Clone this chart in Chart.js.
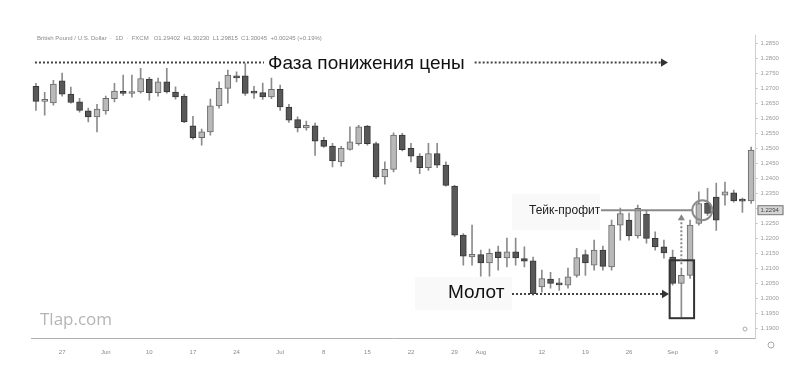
<!DOCTYPE html>
<html>
<head>
<meta charset="utf-8">
<script src="https://cdn.jsdelivr.net/npm/chart.js@4.4.0/dist/chart.umd.min.js"></script>
<style>
  html, body { margin: 0; padding: 0; background: #fff; }
  #chart { display: block; }
</style>
</head>
<body>
<canvas id="chart" width="798" height="369"></canvas>
<script>
// GBP/USD daily, 22 May - 13 Sep
const opens = [
    1.2707, 1.2657, 1.2652, 1.2725, 1.2681, 1.2655, 1.2625, 1.2605, 1.2625, 1.2666,
    1.2690, 1.2683, 1.2688, 1.2731, 1.2686, 1.2722, 1.2688, 1.2674, 1.2575, 1.2536,
    1.2555, 1.2642, 1.2700, 1.2742, 1.2742, 1.2686, 1.2686, 1.2672, 1.2697, 1.2638,
    1.2596, 1.2568, 1.2575, 1.2527, 1.2508, 1.2455, 1.2497, 1.2516, 1.2574, 1.2516,
    1.2405, 1.2430, 1.2544, 1.2500, 1.2474, 1.2436, 1.2483, 1.2444, 1.2374, 1.2211,
    1.2138, 1.2146, 1.2118, 1.2155, 1.2135, 1.2155, 1.2133, 1.2125, 1.2038, 1.2064,
    1.2047, 1.2044, 1.2077, 1.2146, 1.2111, 1.2161, 1.2105, 1.2244, 1.2261, 1.2208,
    1.2281, 1.2200, 1.2172, 1.2138, 1.2050, 1.2077, 1.2250, 1.2318, 1.2338, 1.2344,
    1.2352, 1.2327, 1.2325
];
const highs = [
    1.2717, 1.2687, 1.2727, 1.2751, 1.2704, 1.2667, 1.2634, 1.2647, 1.2674, 1.2717,
    1.2744, 1.2744, 1.2767, 1.2737, 1.2734, 1.2767, 1.2705, 1.2681, 1.2607, 1.2564,
    1.2664, 1.2722, 1.2761, 1.2755, 1.2783, 1.2707, 1.2718, 1.2734, 1.2711, 1.2647,
    1.2605, 1.2591, 1.2584, 1.2537, 1.2517, 1.2507, 1.2572, 1.2577, 1.2577, 1.2521,
    1.2455, 1.2552, 1.2550, 1.2517, 1.2483, 1.2517, 1.2517, 1.2455, 1.2377, 1.2216,
    1.2244, 1.2161, 1.2164, 1.2174, 1.2201, 1.2201, 1.2172, 1.2138, 1.2094, 1.2087,
    1.2067, 1.2101, 1.2167, 1.2161, 1.2194, 1.2174, 1.2261, 1.2301, 1.2284, 1.2311,
    1.2294, 1.2222, 1.2194, 1.2161, 1.2101, 1.2261, 1.2355, 1.2367, 1.2384, 1.2388,
    1.2361, 1.2334, 1.2504
];
const lows = [
    1.2627, 1.2611, 1.2644, 1.2674, 1.2651, 1.2621, 1.2588, 1.2555, 1.2614, 1.2655,
    1.2677, 1.2671, 1.2684, 1.2661, 1.2674, 1.2684, 1.2664, 1.2586, 1.2531, 1.2511,
    1.2544, 1.2634, 1.2651, 1.2722, 1.2677, 1.2667, 1.2663, 1.2666, 1.2627, 1.2587,
    1.2555, 1.2561, 1.2477, 1.2503, 1.2438, 1.2441, 1.2494, 1.2511, 1.2511, 1.2400,
    1.2381, 1.2422, 1.2492, 1.2455, 1.2416, 1.2427, 1.2436, 1.2374, 1.2207, 1.2111,
    1.2111, 1.2074, 1.2074, 1.2094, 1.2105, 1.2111, 1.2105, 1.2011, 1.2021, 1.2034,
    1.2027, 1.2034, 1.2071, 1.2077, 1.2094, 1.2094, 1.2094, 1.2194, 1.2194, 1.2201,
    1.2184, 1.2161, 1.2134, 1.2044, 1.1938, 1.2067, 1.2244, 1.2277, 1.2227, 1.2311,
    1.2321, 1.2287, 1.2317
];
const closes = [
    1.2657, 1.2661, 1.2714, 1.2681, 1.2653, 1.2627, 1.2605, 1.2631, 1.2667, 1.2691,
    1.2683, 1.2686, 1.2733, 1.2686, 1.2722, 1.2688, 1.2672, 1.2588, 1.2536, 1.2555,
    1.2642, 1.2700, 1.2744, 1.2735, 1.2683, 1.2684, 1.2672, 1.2697, 1.2638, 1.2594,
    1.2568, 1.2577, 1.2524, 1.2507, 1.2458, 1.2500, 1.2522, 1.2572, 1.2516, 1.2405,
    1.2430, 1.2544, 1.2496, 1.2474, 1.2436, 1.2483, 1.2444, 1.2377, 1.2211, 1.2141,
    1.2147, 1.2118, 1.2150, 1.2136, 1.2155, 1.2135, 1.2124, 1.2016, 1.2066, 1.2050,
    1.2045, 1.2072, 1.2136, 1.2118, 1.2161, 1.2107, 1.2244, 1.2283, 1.2208, 1.2300,
    1.2200, 1.2172, 1.2152, 1.2050, 1.2077, 1.2244, 1.2316, 1.2283, 1.2261, 1.2355,
    1.2325, 1.2324, 1.2494
];

// x axis: bar index -> label
const tickDays  = [3, 8, 13, 18, 23, 28, 33, 38, 43, 48, 51, 58, 63, 68, 73, 78];
const tickNames = ['27', 'Jun', '10', '17', '24', 'Jul', '8', '15', '22', '29', 'Aug', '12', '19', '26', 'Sep', '9'];

// price axis
const yTicks = [1.190, 1.195, 1.200, 1.205, 1.210, 1.215, 1.220, 1.225, 1.230, 1.235,
                1.240, 1.245, 1.250, 1.255, 1.260, 1.265, 1.270, 1.275, 1.280, 1.285];
const yMin = 1.1868;
const yMax = 1.2878;

// levels used by the notes
const phaseLevel = 1.2786;
const takeProfit = 1.2294;
const hammerIndex = 74;

const days = opens.map((o, i) => i);
const isBull = (i) => closes[i] >= opens[i];

function dotted(ctx, x1, y1, x2, y2, color, width, dash) {
    ctx.save();
    ctx.strokeStyle = color;
    ctx.lineWidth = width;
    ctx.setLineDash(dash || [2, 2]);
    ctx.beginPath();
    ctx.moveTo(x1, y1);
    ctx.lineTo(x2, y2);
    ctx.stroke();
    ctx.restore();
}

function arrowHead(ctx, x, y, dir, color, size) {
    // dir: 'right' or 'up', (x, y) is the tip
    ctx.save();
    ctx.fillStyle = color;
    ctx.beginPath();
    if (dir === 'right') {
        ctx.moveTo(x, y);
        ctx.lineTo(x - size, y - size * 0.6);
        ctx.lineTo(x - size, y + size * 0.6);
    } else {
        ctx.moveTo(x, y);
        ctx.lineTo(x - size * 0.6, y + size);
        ctx.lineTo(x + size * 0.6, y + size);
    }
    ctx.closePath();
    ctx.fill();
    ctx.restore();
}

// text notes, arrows, hammer box and the take-profit mark
const notesPlugin = {
    id: 'notes',
    beforeDatasetsDraw(chart) {
        const ctx = chart.ctx;
        ctx.save();
        ctx.fillStyle = '#f9f9f9';
        ctx.fillRect(512, 194, 88, 36);   // take-profit label
        ctx.fillRect(415, 277, 97, 33);   // hammer label
        ctx.restore();
    },
    afterDatasetsDraw(chart) {
        const ctx = chart.ctx;
        const x = chart.scales.x;
        const y = chart.scales.y;

        // header line
        ctx.save();
        ctx.font = '6px "Liberation Sans", Arial, sans-serif';
        ctx.fillStyle = '#8a8a8a';
        ctx.textBaseline = 'middle';
        ctx.fillText('British Pound / U.S. Dollar  \u00b7  1D  \u00b7  FXCM   O1.29402  H1.30230  L1.29815  C1.30045  +0.00245 (+0.19%)', 37, 38);
        ctx.restore();

        // price decline phase
        const py = y.getPixelForValue(phaseLevel);
        dotted(ctx, x.getPixelForValue(0) - 1, py, 264, py, '#444', 2);
        ctx.save();
        ctx.font = '19px "Liberation Sans", Arial, sans-serif';
        ctx.fillStyle = '#111';
        ctx.textBaseline = 'middle';
        ctx.fillText('Фаза понижения цены', 268, py + 1);
        const tw = ctx.measureText('Фаза понижения цены').width;
        ctx.restore();
        dotted(ctx, 268 + tw + 10, py, 661, py, '#444', 2);
        arrowHead(ctx, 668, py, 'right', '#333', 7);

        // hammer box
        const hx1 = x.getPixelForValue(hammerIndex - 1) - 3;
        const hx2 = x.getPixelForValue(hammerIndex + 1) + 4;
        const hy1 = y.getPixelForValue(1.2127);
        const hy2 = y.getPixelForValue(lows[hammerIndex] - 0.0004);
        ctx.save();
        ctx.strokeStyle = '#333';
        ctx.lineWidth = 2;
        ctx.strokeRect(hx1, hy1, hx2 - hx1, hy2 - hy1);
        ctx.restore();

        // hammer label + arrow
        ctx.save();
        ctx.font = '19px "Liberation Sans", Arial, sans-serif';
        ctx.fillStyle = '#111';
        ctx.textBaseline = 'middle';
        ctx.fillText('Молот', 448, 293);
        ctx.restore();
        dotted(ctx, 512, 294, 662, 294, '#444', 2);
        arrowHead(ctx, 669, 294, 'right', '#333', 7);

        // take-profit line, arrow up and circle
        const ty = y.getPixelForValue(takeProfit);
        const cx = x.getPixelForValue(76.4);
        ctx.save();
        ctx.font = '12px "Liberation Sans", Arial, sans-serif';
        ctx.fillStyle = '#222';
        ctx.textBaseline = 'middle';
        ctx.fillText('Тейк-профит', 529, ty);
        ctx.restore();
        dotted(ctx, 601, ty, cx - 10, ty, '#8a8a8a', 2, []);
        const ax = x.getPixelForValue(hammerIndex);
        dotted(ctx, ax, hy1 + 4, ax, ty + 9, '#888', 2, [2, 2]);
        arrowHead(ctx, ax, ty + 4, 'up', '#888', 6);
        ctx.save();
        ctx.strokeStyle = '#8a8a8a';
        ctx.lineWidth = 2;
        ctx.beginPath();
        ctx.arc(cx, ty, 10, 0, Math.PI * 2);
        ctx.stroke();
        ctx.restore();

        // watermark
        ctx.save();
        ctx.font = '17px "Open Sans", sans-serif';
        ctx.fillStyle = '#b5b5b5';
        ctx.textBaseline = 'middle';
        ctx.fillText('Tlap.com', 40, 320);
        ctx.restore();
    },
    afterDraw(chart) {
        const ctx = chart.ctx;
        const y = chart.scales.y;
        const ty = y.getPixelForValue(takeProfit);
        const left = chart.chartArea.right + 2;

        // price tag on the axis
        ctx.save();
        ctx.fillStyle = '#d4d4d4';
        ctx.strokeStyle = '#777';
        ctx.lineWidth = 1;
        ctx.fillRect(left, ty - 4.5, 26, 9);
        ctx.strokeRect(left + 0.5, ty - 4.5, 25, 9);
        ctx.font = '6px "Liberation Sans", Arial, sans-serif';
        ctx.fillStyle = '#444';
        ctx.textBaseline = 'middle';
        ctx.fillText(takeProfit.toFixed(4), left + 3, ty);

        // small chart icons in the corner
        ctx.strokeStyle = '#aaa';
        ctx.beginPath();
        ctx.arc(771, 345, 3, 0, Math.PI * 2);
        ctx.stroke();
        ctx.beginPath();
        ctx.arc(745, 329, 2, 0, Math.PI * 2);
        ctx.stroke();
        ctx.restore();
    }
};

const chart = new Chart(document.getElementById('chart'), {
    type: 'bar',
    data: {
        labels: days,
        datasets: [
            {
                label: 'body',
                data: opens.map((o, i) => [o, closes[i]]),
                backgroundColor: (c) => isBull(c.dataIndex) ? '#b9b9b9' : '#585858',
                borderColor: (c) => isBull(c.dataIndex) ? '#6a6a6a' : '#363636',
                borderWidth: 1,
                borderSkipped: false,
                barThickness: 6,
                minBarLength: 2,
                grouped: false,
                order: 0
            },
            {
                label: 'wick',
                data: lows.map((l, i) => [l, highs[i]]),
                backgroundColor: '#8c8c8c',
                barThickness: 1,
                grouped: false,
                order: 1
            }
        ]
    },
    options: {
        responsive: false,
        animation: false,
        devicePixelRatio: 1,
        layout: {
            padding: { top: 35, left: 31.6, right: 0, bottom: 0 }
        },
        plugins: {
            legend: { display: false },
            tooltip: { enabled: false }
        },
        scales: {
            x: {
                type: 'category',
                offset: true,
                grid: { display: false },
                border: { display: true, color: '#b0b0b0', dash: [3, 2] },
                afterBuildTicks: (scale) => {
                    scale.ticks = tickDays.map(v => ({ value: v }));
                },
                afterFit: (scale) => { scale.height = 31; },
                ticks: {
                    autoSkip: false,
                    maxRotation: 0,
                    padding: 3,
                    color: '#8a8a8a',
                    font: { size: 6, family: '"Liberation Sans", Arial, sans-serif' },
                    callback: (v) => tickNames[tickDays.indexOf(v)]
                }
            },
            y: {
                position: 'right',
                min: yMin,
                max: yMax,
                grid: { drawOnChartArea: false, drawTicks: true, tickLength: 2, color: '#bbb' },
                border: { display: true, color: '#cfcfcf' },
                afterBuildTicks: (scale) => {
                    scale.ticks = yTicks.map(v => ({ value: v }));
                },
                afterFit: (scale) => { scale.width = 42.5; },
                ticks: {
                    padding: 3,
                    color: '#999',
                    font: { size: 6, family: '"Liberation Sans", Arial, sans-serif' },
                    callback: (v) => Number(v).toFixed(4)
                }
            }
        }
    },
    plugins: [notesPlugin]
});
</script>
</body>
</html>
